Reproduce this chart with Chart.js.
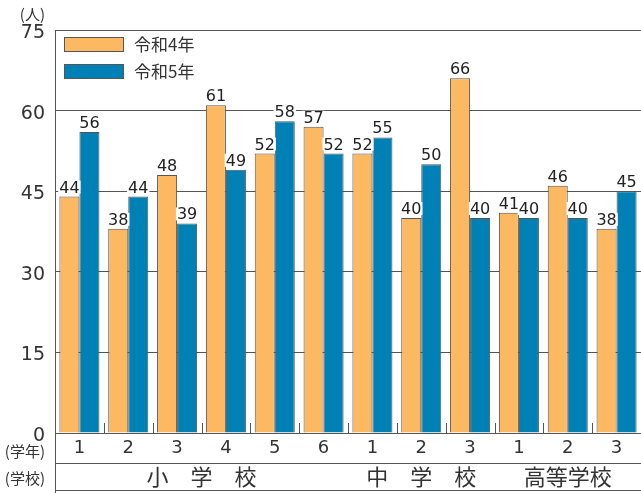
<!DOCTYPE html>
<html>
<head>
<meta charset="utf-8">
<script src="https://cdn.jsdelivr.net/npm/chart.js@4/dist/chart.umd.min.js"></script>
<style>
  html, body { margin: 0; padding: 0; background: #fff; }
  #wrap { width: 641px; height: 493px; }
</style>
</head>
<body>
<div id="wrap"><canvas id="c" width="641" height="493"></canvas></div>
<script>
// ---- data ----
const gradeLabels = ['1', '2', '3', '4', '5', '6', '1', '2', '3', '1', '2', '3'];
const schoolNames = ['小\u3000学\u3000校', '中\u3000学\u3000校', '高等学校'];
const schoolSpans = [6, 3, 3];
const seriesNames = ['令和4年', '令和5年'];
const r4Values = [44, 38, 48, 61, 52, 57, 52, 40, 66, 41, 46, 38];
const r5Values = [56, 44, 39, 49, 58, 52, 55, 50, 40, 40, 40, 45];
const yMin = 0, yMax = 75, yStep = 15;

const COLORS = ['#FCB962', '#0081B5'];
const TEXT = '#333';
const LINE = '#555';
const NUM_FONT = "'DejaVu Sans', sans-serif";
const JP_FONT = "'Noto Sans CJK JP', sans-serif";

const decorPlugin = {
  id: 'decor',
  afterDatasetsDraw(chart) {
    const ctx = chart.ctx;
    const xs = chart.scales.x;
    const area = chart.chartArea;
    ctx.save();

    // small ticks at category boundaries
    ctx.strokeStyle = LINE;
    ctx.lineWidth = 1;
    for (let i = 1; i < gradeLabels.length; i++) {
      const x = Math.round((xs.getPixelForValue(i - 1) + xs.getPixelForValue(i)) / 2) + 0.5;
      ctx.beginPath();
      ctx.moveTo(x, area.bottom - 10);
      ctx.lineTo(x, area.bottom);
      ctx.stroke();
    }

    // data labels
    ctx.font = "16px " + NUM_FONT;
    ctx.textAlign = 'center';
    ctx.textBaseline = 'alphabetic';
    chart.data.datasets.forEach((ds, di) => {
      const meta = chart.getDatasetMeta(di);
      meta.data.forEach((bar, i) => {
        const txt = String(ds.data[i]);
        const w = ctx.measureText(txt).width;
        const yb = bar.y - 4;
        ctx.fillStyle = '#fff';
        ctx.fillRect(bar.x - w / 2 - 1, yb - 12, w + 2, 13);
        ctx.fillStyle = '#222';
        ctx.fillText(txt, bar.x, yb);
      });
    });

    // frame lines
    ctx.strokeStyle = LINE;
    ctx.beginPath();
    ctx.moveTo(area.left + 0.5, area.top);
    ctx.lineTo(area.left + 0.5, chart.height);
    ctx.moveTo(area.left, 463.5);
    ctx.lineTo(area.right, 463.5);
    ctx.moveTo(area.left, 490.5);
    ctx.lineTo(area.right, 490.5);
    ctx.stroke();

    // school names row
    ctx.fillStyle = TEXT;
    ctx.font = "22px " + JP_FONT;
    ctx.textBaseline = 'middle';
    ctx.textAlign = 'center';
    let start = 0;
    schoolSpans.forEach((n, k) => {
      const x0 = xs.getPixelForValue(start);
      const x1 = xs.getPixelForValue(start + n - 1);
      ctx.fillText(schoolNames[k], (x0 + x1) / 2, 477);
      start += n;
    });

    // left captions
    ctx.font = "15px " + JP_FONT;
    ctx.textAlign = 'right';
    ctx.fillText('(学年)', 45, 451);
    ctx.fillText('(学校)', 45, 478);
    ctx.fillText('(人)', 45, 14);

    // legend
    const lx = 64, lys = [37, 64];
    ctx.textAlign = 'left';
    ctx.font = "17px " + JP_FONT;
    chart.data.datasets.forEach((ds, di) => {
      ctx.fillStyle = COLORS[di];
      ctx.fillRect(lx, lys[di], 60, 15);
      ctx.strokeStyle = LINE;
      ctx.strokeRect(lx + 0.5, lys[di] + 0.5, 59, 14);
      ctx.fillStyle = TEXT;
      ctx.fillText(ds.label, 134, lys[di] + 8);
    });

    ctx.restore();
  }
};

new Chart(document.getElementById('c'), {
  type: 'bar',
  data: {
    labels: gradeLabels,
    datasets: [
      { label: seriesNames[0], data: r4Values, backgroundColor: COLORS[0], borderColor: LINE, borderWidth: 1 },
      { label: seriesNames[1], data: r5Values, backgroundColor: COLORS[1], borderColor: LINE, borderWidth: 1 }
    ]
  },
  options: {
    responsive: false,
    devicePixelRatio: 1,
    animation: false,
    categoryPercentage: 0.82,
    barPercentage: 1.0,
    layout: { padding: { top: 30, left: 0, right: 0, bottom: 0 } },
    plugins: {
      legend: { display: false },
      tooltip: { enabled: false }
    },
    scales: {
      x: {
        grid: { display: false, drawTicks: false },
        border: { display: false },
        ticks: { color: TEXT, font: { family: NUM_FONT, size: 18 }, padding: 5, maxRotation: 0, autoSkip: false },
        afterFit(scale) { scale.height = 60; }
      },
      y: {
        min: yMin,
        max: yMax,
        grid: { color: LINE, drawTicks: false, lineWidth: 1 },
        border: { display: false },
        ticks: { stepSize: yStep, color: TEXT, font: { family: NUM_FONT, size: 19 }, padding: 10, labelOffset: 3 },
        afterFit(scale) { scale.width = 55; }
      }
    }
  },
  plugins: [decorPlugin]
});
</script>
</body>
</html>
